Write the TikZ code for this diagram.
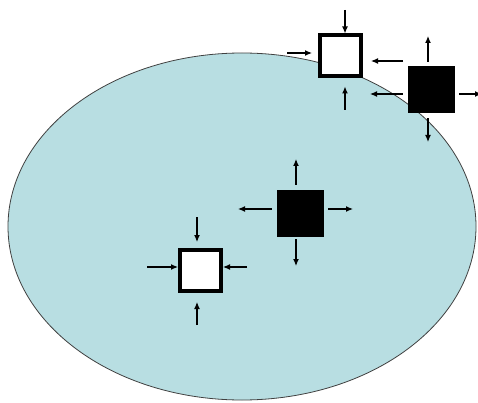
\documentclass[tikz,border=0pt]{standalone}
\usetikzlibrary{arrows.meta}
\definecolor{ellcol}{HTML}{B8DEE2}
\begin{document}
\begin{tikzpicture}[x=1pt,y=-1pt,
  wsq/.style={draw=black, line width=4pt, fill=white, minimum size=41pt, inner sep=0pt},
  bsq/.style={draw=black, fill=black, minimum size=46pt, inner sep=0pt, line width=0.4pt},
  arr/.style={-{Latex[length=7pt,width=6pt]}, line width=1.2pt, black}]
\useasboundingbox (0,0) rectangle (478,403);
\fill[white] (0,0) rectangle (478,403);
% ellipse
\draw[fill=ellcol, draw=black!75, line width=0.8pt] (242,226.5) ellipse [x radius=234, y radius=173.5];
% squares
\node[wsq] (w1) at (340.5,56) {};
\node[bsq] (b1) at (431,89) {};
\node[bsq] (b2) at (300,213) {};
\node[wsq] (w2) at (200.5,270.5) {};
% free ends
\coordinate (w1t) at (345,10);
\coordinate (w1l) at (287,53);
\coordinate (w1r) at (403,61);
\coordinate (w1b) at (345,110);
\coordinate (b1t) at (428,36);
\coordinate (b1l) at (370,94);
\coordinate (b1r) at (482,94);
\coordinate (b1b) at (428,142);
\coordinate (b2t) at (296,159);
\coordinate (b2l) at (238,209);
\coordinate (b2r) at (353,209);
\coordinate (b2b) at (296,266);
\coordinate (w2t) at (197,217);
\coordinate (w2l) at (147,267);
\coordinate (w2r) at (247,267);
\coordinate (w2b) at (197,325);
% arrows into w1
\draw[arr] (w1t) -- (w1t |- w1.north);
\draw[arr, shorten >=6pt] (w1l) -- (w1l -| w1.west);
\draw[arr, shorten >=8pt] (w1r) -- (w1r -| w1.east);
\draw[arr, shorten >=8pt] (w1b) -- (w1b |- w1.south);
% arrows out of b1
\draw[arr, shorten <=4pt] (b1t |- b1.north) -- (b1t);
\draw[arr, shorten <=5pt] (b1l -| b1.west) -- (b1l);
\draw[arr, shorten <=5pt] (b1r -| b1.east) -- (b1r);
\draw[arr, shorten <=6pt] (b1b |- b1.south) -- (b1b);
% arrows out of b2
\draw[arr, shorten <=5pt] (b2t |- b2.north) -- (b2t);
\draw[arr, shorten <=5pt] (b2l -| b2.west) -- (b2l);
\draw[arr, shorten <=5pt] (b2r -| b2.east) -- (b2r);
\draw[arr, shorten <=3pt] (b2b |- b2.south) -- (b2b);
% arrows into w2
\draw[arr, shorten >=6pt] (w2t) -- (w2t |- w2.north);
\draw[arr] (w2l) -- (w2l -| w2.west);
\draw[arr] (w2r) -- (w2r -| w2.east);
\draw[arr, shorten >=9pt] (w2b) -- (w2b |- w2.south);
\end{tikzpicture}
\end{document}
